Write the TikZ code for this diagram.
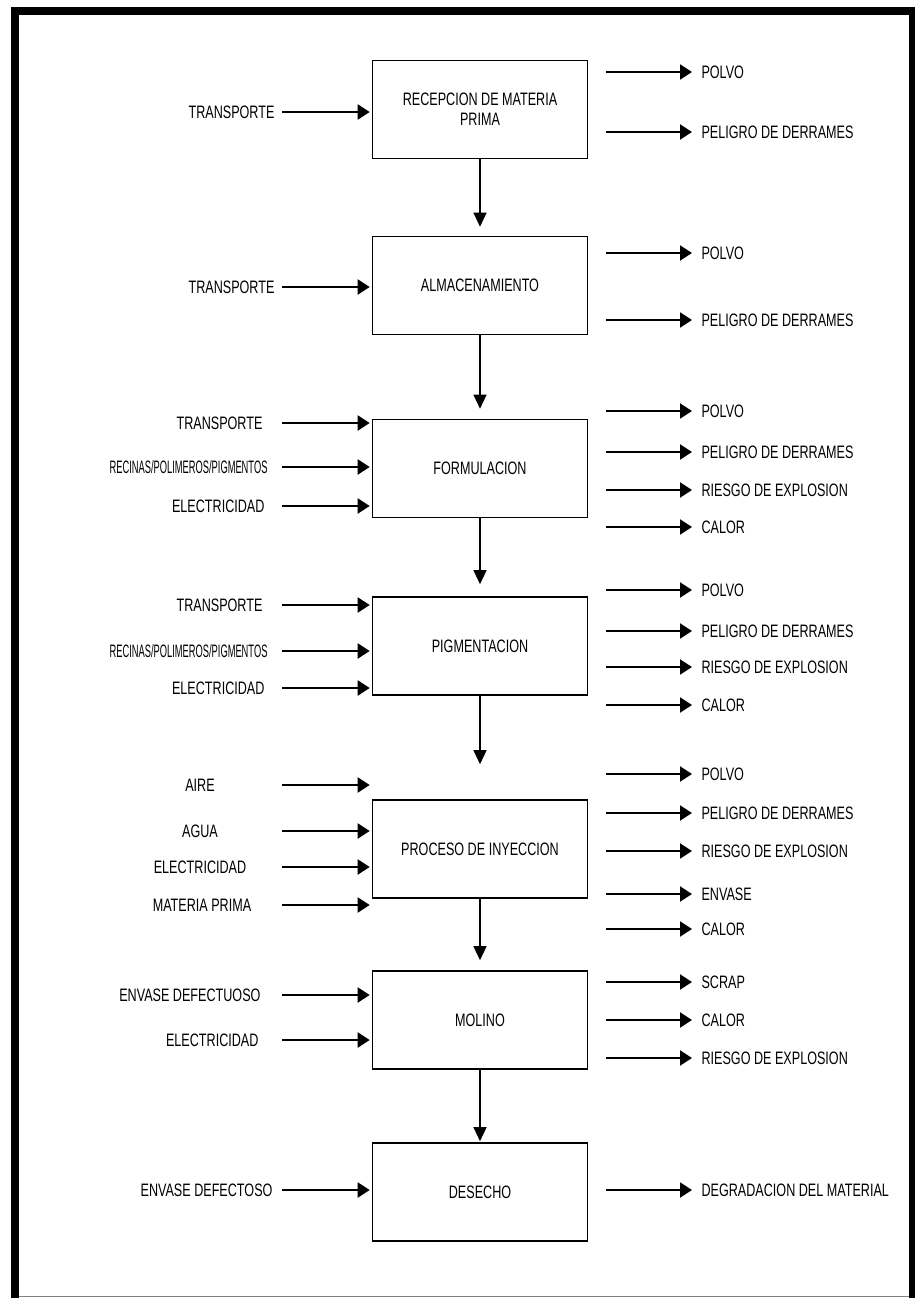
\documentclass[tikz,border=0pt]{standalone}
\usepackage{fontspec}
\newfontfamily\cadfont[FakeStretch=0.7]{Liberation Sans}
\usetikzlibrary{arrows.meta,positioning}

\begin{document}
\begin{tikzpicture}[x=1pt, y=-1pt, font=\cadfont\fontsize{18}{20}\selectfont,
		>={Triangle[length=12pt,width=15pt]},
		proceso/.style={draw, line width=1.6pt, minimum width=215pt, minimum height=98pt, align=center, inner sep=0pt},
		flecha/.style={->, line width=2pt},
		bajada/.style={->, line width=1.2pt, >={Triangle[length=14pt,width=13pt]}}]
	\useasboundingbox (0,0) rectangle (915,1298);
	
	% Marco exterior
	\fill[black] (11,7) rectangle (19,1298);
	\fill[black] (11,7) rectangle (915,15);
	\fill[black] (909,7) rectangle (915,1298);
	\draw[gray, line width=1pt] (19,1296) -- (909,1296);
	
	% Cajas del proceso
	\node[proceso] (b1) at (480,109.5) {RECEPCION DE MATERIA\\PRIMA};
	\node[proceso] (b2) at (480,285.5) {ALMACENAMIENTO};
	\node[proceso] (b3) at (480,468.5) {FORMULACION};
	\node[proceso] (b4) at (480,646) {PIGMENTACION};
	\node[proceso] (b5) at (480,849) {PROCESO DE INYECCION};
	\node[proceso] (b6) at (480,1020) {MOLINO};
	\node[proceso] (b7) at (480,1192) {DESECHO};
	
	% Flujo principal
	\draw[bajada, shorten >=9pt] (b1) -- (b2);
	\draw[bajada, shorten >=10pt] (b2) -- (b3);
	\draw[bajada, shorten >=12pt] (b3) -- (b4);
	\draw[bajada, shorten >=35pt] (b4) -- (b5);
	\draw[bajada, shorten >=10pt] (b5) -- (b6);
	\draw[bajada, shorten >=1pt] (b6) -- (b7);
	
	% Entradas: caja, nombre, y, x del texto, anclaje, texto
	\newcommand{\entrada}[6]{%
		\node[anchor=#5] (#2) at (#4,#3) {#6};
		\coordinate (#2c) at (282,#3);
		\draw[flecha, shorten >=2pt] (#2c) -- (#2c -| #1.west);}
	% Salidas: caja, nombre, y, texto
	\newcommand{\salida}[4]{%
		\node[anchor=west] (#2) at (698,#3) {#4};
		\draw[flecha, shorten <=18pt, shorten >=6pt] (#2.west -| #1.east) -- (#2.west);}
	\newcommand{\recinas}{\scalebox{0.74}[1]{RECINAS/POLIMEROS/PIGMENTOS}}
	
	% Recepcion de materia prima
	\entrada{b1}{e1a}{112}{278}{east}{TRANSPORTE}
	\salida{b1}{s1a}{72}{POLVO}
	\salida{b1}{s1b}{132}{PELIGRO DE DERRAMES}
	
	% Almacenamiento
	\entrada{b2}{e2a}{287}{278}{east}{TRANSPORTE}
	\salida{b2}{s2a}{253}{POLVO}
	\salida{b2}{s2b}{320}{PELIGRO DE DERRAMES}
	
	% Formulacion
	\entrada{b3}{e3a}{423}{266}{east}{TRANSPORTE}
	\entrada{b3}{e3b}{467}{271}{east}{\recinas}
	\entrada{b3}{e3c}{506}{268}{east}{ELECTRICIDAD}
	\salida{b3}{s3a}{411}{POLVO}
	\salida{b3}{s3b}{452}{PELIGRO DE DERRAMES}
	\salida{b3}{s3c}{490}{RIESGO DE EXPLOSION}
	\salida{b3}{s3d}{527}{CALOR}
	
	% Pigmentacion
	\entrada{b4}{e4a}{605}{266}{east}{TRANSPORTE}
	\entrada{b4}{e4b}{651}{271}{east}{\recinas}
	\entrada{b4}{e4c}{688}{268}{east}{ELECTRICIDAD}
	\salida{b4}{s4a}{590}{POLVO}
	\salida{b4}{s4b}{631}{PELIGRO DE DERRAMES}
	\salida{b4}{s4c}{667}{RIESGO DE EXPLOSION}
	\salida{b4}{s4d}{705}{CALOR}
	
	% Proceso de inyeccion
	\entrada{b5}{e5a}{785}{200}{center}{AIRE}
	\entrada{b5}{e5b}{831}{200}{center}{AGUA}
	\entrada{b5}{e5c}{867}{200}{center}{ELECTRICIDAD}
	\entrada{b5}{e5d}{905}{202}{center}{MATERIA PRIMA}
	\salida{b5}{s5a}{774}{POLVO}
	\salida{b5}{s5b}{813}{PELIGRO DE DERRAMES}
	\salida{b5}{s5c}{851}{RIESGO DE EXPLOSION}
	\salida{b5}{s5d}{894}{ENVASE}
	\salida{b5}{s5e}{929}{CALOR}
	
	% Molino
	\entrada{b6}{e6a}{995}{264}{east}{ENVASE DEFECTUOSO}
	\entrada{b6}{e6b}{1040}{262}{east}{ELECTRICIDAD}
	\salida{b6}{s6a}{982}{SCRAP}
	\salida{b6}{s6b}{1020}{CALOR}
	\salida{b6}{s6c}{1058}{RIESGO DE EXPLOSION}
	
	% Desecho
	\entrada{b7}{e7a}{1190}{276}{east}{ENVASE DEFECTOSO}
	\salida{b7}{s7a}{1190}{DEGRADACION DEL MATERIAL}
\end{tikzpicture}
\end{document}
